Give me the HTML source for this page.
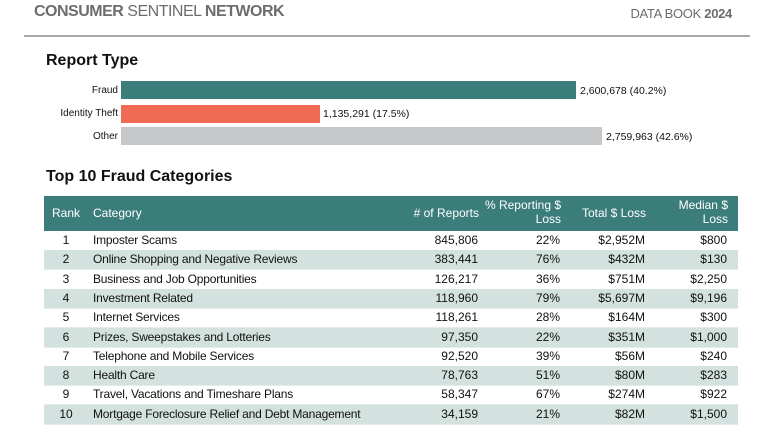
<!DOCTYPE html>
<html><head><meta charset="utf-8"><style>
body{margin:0;width:768px;height:432px;background:#fff;position:relative;overflow:hidden;font-family:"Liberation Sans Narrow","Liberation Sans",sans-serif;color:#111}
.a{position:absolute;white-space:nowrap}
.r{text-align:right}
.bar{position:absolute;left:82px;height:18px}
.lab{position:absolute;font-size:10px;width:76px;text-align:right;left:0}
.val{position:absolute;font-size:10.5px}
.row{position:absolute;left:44px;width:694px;height:19px;font-size:12px;border-bottom:1px solid #e4ebe9}
.row span{position:absolute;top:2px}
.sh{background:#d3e2de}
.hd{color:#fff;font-size:12px}
</style></head><body>
<div class="a" style="left:34px;top:3px;font-size:16px;letter-spacing:-0.5px;color:#6d6d6d"><b>CONSUMER</b> SENTINEL <b>NETWORK</b></div>
<div class="a" style="right:36px;top:6px;font-size:13px;letter-spacing:-0.3px;color:#6d6d6d">DATA BOOK <b>2024</b></div>
<div class="a" style="left:24px;top:35px;width:726px;height:2px;background:#a8a8a8"></div>
<div class="a" style="left:46px;top:52px;font-size:16px;font-weight:bold;font-family:'Liberation Sans',sans-serif">Report Type</div>
<div class="lab" style="top:85px;left:42px">Fraud</div>
<div class="bar" style="left:121px;top:81px;width:455px;background:#3b7d7b"></div>
<div class="val" style="left:580px;top:85px">2,600,678 (40.2%)</div>
<div class="lab" style="top:108px;left:42px">Identity Theft</div>
<div class="bar" style="left:121px;top:105px;width:199px;background:#ef6b54"></div>
<div class="val" style="left:323px;top:108px">1,135,291 (17.5%)</div>
<div class="lab" style="top:131px;left:42px">Other</div>
<div class="bar" style="left:121px;top:127px;width:481px;background:#c6c7c8"></div>
<div class="val" style="left:606px;top:131px">2,759,963 (42.6%)</div>
<div class="a" style="left:46px;top:168px;font-size:16px;font-weight:bold;font-family:'Liberation Sans',sans-serif">Top 10 Fraud Categories</div>
<div class="a" style="left:44px;top:196px;width:694px;height:35px;background:#3b7d7b"></div>
<div class="a hd" style="left:52px;top:206px">Rank</div>
<div class="a hd" style="left:93px;top:206px">Category</div>
<div class="a hd r" style="left:380px;width:99px;top:206px">#&nbsp;of Reports</div>
<div class="a hd r" style="left:470px;width:91px;top:198px;line-height:14px">% Reporting $<br>Loss</div>
<div class="a hd r" style="left:560px;width:86px;top:206px">Total $ Loss</div>
<div class="a hd r" style="left:650px;width:78px;top:198px;line-height:14px">Median $<br>Loss</div>
<div id="t"></div>
<script>
var d=[["1","Imposter Scams","845,806","22%","$2,952M","$800"],["2","Online Shopping and Negative Reviews","383,441","76%","$432M","$130"],["3","Business and Job Opportunities","126,217","36%","$751M","$2,250"],["4","Investment Related","118,960","79%","$5,697M","$9,196"],["5","Internet Services","118,261","28%","$164M","$300"],["6","Prizes, Sweepstakes and Lotteries","97,350","22%","$351M","$1,000"],["7","Telephone and Mobile Services","92,520","39%","$56M","$240"],["8","Health Care","78,763","51%","$80M","$283"],["9","Travel, Vacations and Timeshare Plans","58,347","67%","$274M","$922"],["10","Mortgage Foreclosure Relief and Debt Management","34,159","21%","$82M","$1,500"]];
var h="";d.forEach(function(r,i){h+='<div class="row'+(i%2?' sh':'')+'" style="top:'+(231+i*19.3)+'px"><span style="left:0;width:44px;text-align:center">'+r[0]+'</span><span style="left:49px;letter-spacing:-0.2px">'+r[1]+'</span><span style="right:260px">'+r[2]+'</span><span style="right:178px">'+r[3]+'</span><span style="right:93px">'+r[4]+'</span><span style="right:11px">'+r[5]+'</span></div>'});
document.getElementById("t").innerHTML=h;
</script>
</body></html>
